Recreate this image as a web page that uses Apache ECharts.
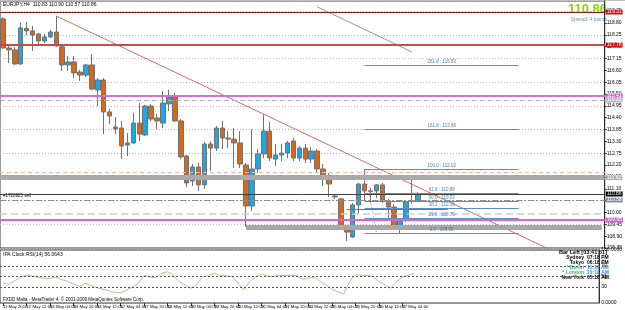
<!DOCTYPE html>
<html>
<head>
<meta charset="utf-8">
<script src="https://cdn.jsdelivr.net/npm/echarts@6/dist/echarts.min.js"></script>
<style>
  html, body { margin: 0; padding: 0; background: #fff; }
  #chart { width: 625px; height: 310px; }
</style>
</head>
<body>
<div id="chart"></div>
<script>
// EURJPY,H4 candles: [open, close, low, high]
const candles = [
  [118.99, 117.64, 117.60, 119.07], [117.64, 117.55, 116.94, 117.73], [117.55, 116.90, 116.85, 117.69],
  [116.90, 118.57, 116.85, 118.80], [118.55, 118.43, 118.24, 118.85], [118.43, 118.24, 117.50, 118.66],
  [118.29, 117.96, 117.82, 118.34], [117.96, 118.15, 117.87, 118.29], [118.15, 118.38, 118.10, 118.47],
  [118.38, 117.73, 117.69, 119.12], [117.69, 116.85, 116.57, 117.73], [116.85, 116.99, 116.57, 117.27],
  [116.99, 116.48, 116.24, 117.27], [116.52, 116.38, 116.11, 116.62], [116.38, 116.85, 116.29, 116.90],
  [116.85, 115.73, 115.69, 117.36], [115.69, 116.15, 114.94, 116.24], [116.15, 114.67, 113.64, 116.24],
  [114.67, 114.48, 114.11, 114.80], [113.97, 113.88, 113.64, 114.43], [113.92, 113.09, 112.48, 114.25],
  [113.13, 113.23, 112.62, 113.69], [113.23, 114.15, 113.18, 114.62], [114.15, 113.64, 113.32, 115.08],
  [113.60, 114.94, 113.55, 114.99], [114.94, 114.34, 114.25, 115.04], [114.39, 114.25, 113.88, 114.57],
  [114.15, 115.08, 113.92, 115.64], [115.04, 115.36, 114.71, 115.69], [115.36, 114.25, 114.20, 115.55],
  [114.25, 112.58, 112.48, 114.34], [112.62, 111.37, 111.18, 112.67], [111.46, 112.11, 111.23, 112.25],
  [112.11, 111.28, 111.00, 112.30], [111.28, 113.18, 111.09, 113.27], [113.18, 112.99, 111.93, 113.32],
  [112.99, 113.92, 112.85, 114.02], [113.92, 113.46, 112.95, 114.25], [113.46, 113.41, 112.99, 113.78],
  [113.41, 113.23, 112.07, 113.92], [113.23, 112.25, 112.07, 113.78], [112.20, 110.30, 109.33, 112.30],
  [110.30, 112.02, 110.07, 113.88], [112.02, 112.72, 111.83, 112.95], [112.72, 113.78, 112.53, 114.57],
  [113.78, 112.53, 112.39, 114.20], [112.48, 112.67, 112.16, 113.18], [112.67, 112.76, 112.39, 113.18],
  [112.76, 113.23, 112.53, 113.32], [113.32, 112.53, 112.39, 113.46], [112.53, 112.99, 112.39, 113.09],
  [112.99, 112.48, 112.30, 113.18], [112.48, 112.85, 112.30, 113.04], [112.85, 112.02, 111.83, 112.95],
  [112.02, 111.69, 111.23, 112.25], [111.69, 111.32, 110.72, 111.83], [110.76, 110.72, 110.63, 110.86],
  [110.63, 109.33, 109.28, 110.67], [109.33, 109.09, 108.67, 109.42], [108.86, 110.35, 108.81, 110.44],
  [110.35, 111.32, 109.93, 111.37], [111.32, 111.00, 110.53, 112.02], [111.00, 110.98, 110.44, 111.14],
  [111.00, 111.28, 110.67, 111.32], [111.28, 110.58, 110.44, 111.37], [110.53, 110.25, 109.74, 110.63],
  [110.25, 109.33, 109.28, 110.39], [109.33, 109.70, 109.00, 109.74], [109.70, 110.49, 109.56, 110.58],
  [110.53, 110.51, 110.39, 111.55], [110.53, 110.86, 110.49, 110.95]
];

// RSI(14) in the lower window, one value per candle
const rsiValues = [
  38, 35, 42, 49, 52, 51, 48, 47, 46, 49, 44, 41, 36, 31, 37, 33, 29, 26, 23, 20,
  19, 24, 30, 37, 52, 49, 48, 56, 59, 52, 40, 34, 28, 35, 49, 52, 56, 52, 51, 50,
  38, 25, 40, 49, 55, 51, 50, 52, 52, 52, 52, 45, 46, 49, 41, 34, 26, 21, 17, 40,
  54, 52, 52, 50, 40, 34, 28, 40, 49, 52, 56.06
];

// time axis labels, one every 4 bars
const timeLabels = [
  '11 May 2010', '12 May 12:00', '13 May 04:00', '13 May 20:00', '14 May 12:00', '17 May 04:00',
  '17 May 20:00', '18 May 12:00', '19 May 04:00', '19 May 20:00', '20 May 12:00', '21 May 04:00',
  '21 May 20:00', '24 May 12:00', '25 May 04:00', '25 May 20:00', '26 May 12:00', '27 May 04:00'
];

// horizontal levels drawn on the chart
const resistLevels = [119.31, 117.78];
const pivotLevels = [115.41, 109.65];
const dashLevels = [115.22, 109.93];
const peachLevel = 111.88;
const bandLevels = [111.62, 109.33];
const bidPrice = 110.86;
const orderPrice = 110.58;
const greenSegment = [[58, 110.16], [75, 110.16]];

// trend lines [barIndex, price]
const redTrend = [[9, 119.12], [95, 107.92]];
const purpleTrend = [[53, 119.55], [69, 117.45]];

// fibonacci
const fibHigh = 112.02;
const fibLow = 109.05;
const fibLevels = [0, 23.6, 38.2, 50, 61.8, 100, 161.8, 261.8];
const rsiLevels = [30, 50, 70];

const TOTAL = 102;
const cats = [];
for (let i = 0; i < TOTAL; i++) cats.push('b' + i);

const FONT = '"Liberation Sans", Arial, sans-serif';
const NARROW = '"Liberation Sans Narrow", "Liberation Sans", Arial, sans-serif';

function hLine(price, color, width, type, tag) {
  return {
    yAxis: price,
    lineStyle: { color: color, width: width, type: type },
    label: tag ? {
      show: true, position: 'end', formatter: price.toFixed(2), fontSize: 5, fontFamily: FONT,
      color: tag.text || '#fff', backgroundColor: tag.bg, padding: [0, 1], distance: 1
    } : { show: false }
  };
}

const marks = [];
marks.push(hLine(resistLevels[0], '#8b1a1a', 1, 'solid', { bg: '#d01010' }));
marks.push(hLine(resistLevels[1], '#c05050', 2, 'solid', { bg: '#d01010' }));
marks.push(hLine(pivotLevels[0], '#d070d0', 2, 'solid', { bg: '#d060d0' }));
marks.push(hLine(dashLevels[0], '#b0b0b0', 1, [5, 3], { bg: '#b8b8c8' }));
marks.push(hLine(peachLevel, '#f0b8a0', 1, [4, 3], null));
marks.push(hLine(bandLevels[0], '#aaaaaa', 5, 'solid', { bg: '#b0b0b0' }));
marks.push(hLine(bidPrice, '#404040', 1, 'solid', { bg: '#000' }));
marks.push(hLine(orderPrice, '#909090', 1, [6, 2, 2, 2], { bg: '#8090a8' }));
marks.push(hLine(dashLevels[1], '#cccccc', 1.5, [7, 4], null));
marks.push(hLine(pivotLevels[1], '#e060d0', 2, 'solid', { bg: '#d060d0' }));
marks.push([
  { coord: [41, bandLevels[1]], lineStyle: { color: '#a8a8a8', width: 5, type: 'solid' }, label: { show: false } },
  { coord: [TOTAL - 1, bandLevels[1]] }
]);
marks.push([
  { coord: greenSegment[0], lineStyle: { color: '#6a7a5a', width: 1, type: 'solid' }, label: { show: false } },
  { coord: greenSegment[1] }
]);
fibLevels.forEach(function (lv) {
  const p = fibLow + (fibHigh - fibLow) * lv / 100;
  marks.push([
    {
      coord: [61, p], lineStyle: { color: '#5a8fc0', width: 1, type: 'solid' },
      label: {
        show: true, position: 'insideMiddleTop', formatter: lv.toFixed(1) + ' : ' + p.toFixed(2),
        fontSize: 4.5, fontFamily: FONT, color: '#4a7fb0', distance: 1
      }
    },
    { coord: [87, p] }
  ]);
});

// labels alternate between two axes so ECharts' overlap check never drops one
const labelEven = function (i) { return i % 8 === 0 && i / 4 < timeLabels.length; };
const labelOdd = function (i) { return i % 8 === 4 && i / 4 < timeLabels.length; };
const timeFormatter = function (v, i) { return timeLabels[i / 4] || ''; };

function timeAxis(intervalFn) {
  return {
    type: 'category', gridIndex: 1, position: 'bottom', data: cats, boundaryGap: true,
    axisLine: { show: false },
    axisTick: { show: true, interval: intervalFn, alignWithLabel: true, length: 3, lineStyle: { color: '#303030' } },
    axisLabel: {
      interval: intervalFn, formatter: timeFormatter,
      fontSize: 4.3, fontFamily: NARROW, color: '#000', align: 'left', margin: 2
    },
    splitLine: { show: false }
  };
}

const option = {
  animation: false,
  backgroundColor: '#ffffff',
  textStyle: { fontFamily: FONT },
  grid: [
    { left: 0, right: 15, top: 1, height: 247, show: true, borderColor: '#303030', borderWidth: 1, backgroundColor: '#fff' },
    { left: 0, right: 15, top: 250, height: 53, show: true, borderColor: '#303030', borderWidth: 1, backgroundColor: '#fff' }
  ],
  xAxis: [
    {
      type: 'category', gridIndex: 0, data: cats, boundaryGap: true,
      axisLine: { show: false }, axisTick: { show: false }, axisLabel: { show: false }, splitLine: { show: false }
    },
    timeAxis(labelEven),
    timeAxis(labelOdd)
  ],
  yAxis: [
    {
      type: 'value', gridIndex: 0, position: 'right', min: 108.35, max: 119.82, interval: 0.55,
      axisLine: { show: true, lineStyle: { color: '#303030' } },
      axisTick: { show: true, length: 2, lineStyle: { color: '#303030' } },
      axisLabel: { fontSize: 5, color: '#000', margin: 2, showMaxLabel: false, formatter: function (v) { return v.toFixed(2); } },
      splitLine: { show: false }
    },
    {
      type: 'value', gridIndex: 0, position: 'right', min: 108.35, max: 119.82, interval: 1.1,
      axisLine: { show: false }, axisTick: { show: false }, axisLabel: { show: false },
      splitLine: { show: true, lineStyle: { color: '#b8b8b8', type: [1, 2], width: 1 } }
    },
    {
      type: 'value', gridIndex: 1, position: 'right', min: 0, max: 100, interval: 10,
      axisLine: { show: true, lineStyle: { color: '#303030' } }, axisTick: { show: false },
      axisLabel: {
        fontSize: 5, color: '#000', margin: 2,
        formatter: function (v) { return ({ 100: '100.0000', 70: '70', 50: '50', 30: '30', 0: '0.0000' })[v] || ''; }
      },
      splitLine: { show: false }
    }
  ],
  series: [
    {
      name: 'EURJPY', type: 'candlestick', xAxisIndex: 0, yAxisIndex: 0, data: candles, barWidth: 5,
      itemStyle: { color: '#1aa8e6', color0: '#d2691e', borderColor: '#727272', borderColor0: '#727272', borderWidth: 1 },
      markLine: { symbol: ['none', 'none'], silent: true, animation: false, label: { show: false }, data: marks }
    },
    {
      type: 'line', xAxisIndex: 0, yAxisIndex: 0, data: redTrend, symbol: 'none', silent: true,
      lineStyle: { color: '#d86a6a', width: 1 }
    },
    {
      type: 'line', xAxisIndex: 0, yAxisIndex: 0, data: purpleTrend, symbol: 'none', silent: true,
      lineStyle: { color: '#9a90c8', width: 1 }
    },
    {
      type: 'line', xAxisIndex: 0, yAxisIndex: 0, data: [[61, fibHigh], [63, fibLow]], symbol: 'none', silent: true,
      lineStyle: { color: '#c08080', width: 1, type: [1, 2] }
    },
    {
      name: 'RSI', type: 'line', xAxisIndex: 1, yAxisIndex: 2, data: rsiValues, symbol: 'none', silent: true,
      lineStyle: { color: '#d2b48c', width: 1 },
      markLine: {
        symbol: ['none', 'none'], silent: true, label: { show: false },
        lineStyle: { color: '#505050', type: [2, 2], width: 1 },
        data: rsiLevels.map(function (v) { return { yAxis: v }; })
      }
    }
  ],
  graphic: [
    { type: 'rect', shape: { x: 0, y: 0, width: 625, height: 1 }, style: { fill: '#c0c0c0' } },
    { type: 'text', x: 3, y: 2, style: { text: 'EURJPY,H4  110.83 110.90 110.57 110.86', fill: '#000', font: '5px ' + FONT, textAlign: 'left', textVerticalAlign: 'top' } },
    { type: 'text', x: 607, y: 3, style: { text: '110.86', fill: '#84d800', font: 'bold 13px ' + FONT, textAlign: 'right', textVerticalAlign: 'top' } },
    { type: 'text', x: 607, y: 17, style: { text: 'Spread: 4 points', fill: '#7890b0', font: '5px ' + FONT, textAlign: 'right', textVerticalAlign: 'top' } },
    { type: 'text', x: 3, y: 193, style: { text: '#1720925 sell', fill: '#000', font: '4.5px ' + FONT, textAlign: 'left', textVerticalAlign: 'top' } },
    { type: 'text', x: 3, y: 252, style: { text: 'IPA Clock RSI(14) 56.0643', fill: '#000', font: '5px ' + FONT, textAlign: 'left', textVerticalAlign: 'top' } },
    { type: 'text', x: 3, y: 297, style: { text: 'FXDD Malta - MetaTrader 4, \u00a9 2001-2009 MetaQuotes Software Corp.', fill: '#000', font: '4.5px ' + FONT, textAlign: 'left', textVerticalAlign: 'top' } },
    { type: 'text', x: 607, y: 252, style: { text: 'Bar Left [03:41:51]', fill: '#000', font: 'bold 5.5px ' + FONT, textAlign: 'right', textVerticalAlign: 'middle' } },
    { type: 'text', x: 584, y: 258, style: { text: 'Sydney', fill: '#000', font: 'bold 5px ' + FONT, textAlign: 'right', textVerticalAlign: 'middle' } },
    { type: 'text', x: 587, y: 258, style: { text: '07:18 PM', fill: '#000', font: 'bold 5px ' + FONT, textAlign: 'left', textVerticalAlign: 'middle' } },
    { type: 'text', x: 584, y: 263, style: { text: 'Tokyo', fill: '#000', font: 'bold 5px ' + FONT, textAlign: 'right', textVerticalAlign: 'middle' } },
    { type: 'text', x: 587, y: 263, style: { text: '06:18 PM', fill: '#000', font: 'bold 5px ' + FONT, textAlign: 'left', textVerticalAlign: 'middle' } },
    { type: 'text', x: 584, y: 268, style: { text: '* Berlin', fill: '#3cb371', font: 'bold 5px ' + FONT, textAlign: 'right', textVerticalAlign: 'middle' } },
    { type: 'text', x: 587, y: 268, style: { text: '11:18 AM', fill: '#2f8fef', font: 'bold 5px ' + FONT, textAlign: 'left', textVerticalAlign: 'middle' } },
    { type: 'text', x: 584, y: 273, style: { text: '* London', fill: '#3cb371', font: 'bold 5px ' + FONT, textAlign: 'right', textVerticalAlign: 'middle' } },
    { type: 'text', x: 587, y: 273, style: { text: '10:18 AM', fill: '#2f8fef', font: 'bold 5px ' + FONT, textAlign: 'left', textVerticalAlign: 'middle' } },
    { type: 'text', x: 584, y: 278, style: { text: 'New York', fill: '#000', font: 'bold 5px ' + FONT, textAlign: 'right', textVerticalAlign: 'middle' } },
    { type: 'text', x: 587, y: 278, style: { text: '05:18 AM', fill: '#000', font: 'bold 5px ' + FONT, textAlign: 'left', textVerticalAlign: 'middle' } }
  ]
};

const chart = echarts.init(document.getElementById('chart'), null, { renderer: 'canvas' });
chart.setOption(option);
</script>
</body>
</html>
